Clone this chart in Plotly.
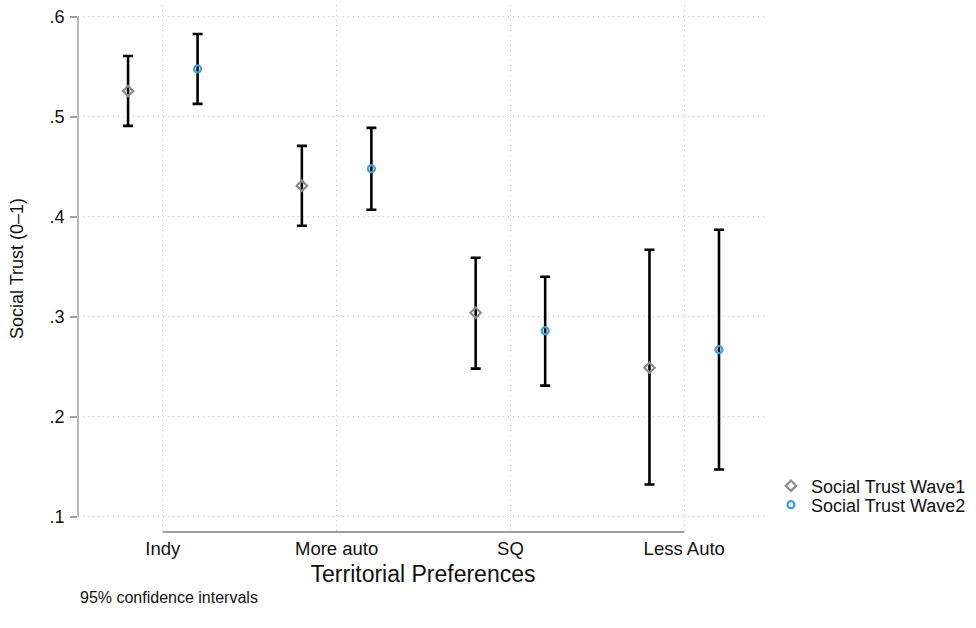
import plotly.graph_objects as go

categories = ["Indy", "More auto", "SQ", "Less Auto"]
wave1_mean = [0.526, 0.431, 0.304, 0.249]
wave1_low = [0.491, 0.391, 0.248, 0.132]
wave1_high = [0.561, 0.471, 0.359, 0.367]
wave2_mean = [0.548, 0.448, 0.286, 0.267]
wave2_low = [0.513, 0.407, 0.231, 0.147]
wave2_high = [0.583, 0.489, 0.340, 0.387]
y_ticks = [0.1, 0.2, 0.3, 0.4, 0.5, 0.6]
y_tick_labels = [".1", ".2", ".3", ".4", ".5", ".6"]

pos = list(range(1, len(categories) + 1))
off = 0.2
FONT = "Liberation Sans, Arial, Helvetica, sans-serif"

fig = go.Figure()

def add_series(name, means, lows, highs, shift, symbol, color, size, legend):
    xs = [p + shift for p in pos]
    fig.add_trace(go.Scatter(
        x=xs, y=means, mode="markers", name=name, legend=legend,
        marker=dict(symbol=symbol, size=size, color=color,
                    line=dict(color=color, width=2.2)),
        error_y=dict(type="data", symmetric=False,
                     array=[h - m for h, m in zip(highs, means)],
                     arrayminus=[m - l for m, l in zip(means, lows)],
                     color="black", thickness=2.6, width=5),
    ))

add_series("Social Trust Wave1", wave1_mean, wave1_low, wave1_high, -off,
           "diamond-open", "#8c8c8c", 8, "legend")
add_series("Social Trust Wave2", wave2_mean, wave2_low, wave2_high, off,
           "circle-open", "#3d9fdc", 7, "legend2")

grid = dict(showgrid=True, gridcolor="#c2c2c2", gridwidth=1, griddash="1px,4px", zeroline=False)

leg_common = dict(xanchor="left", yanchor="middle", font=dict(size=18),
                  bgcolor="rgba(0,0,0,0)", itemwidth=30)

fig.update_layout(
    width=976, height=628,
    paper_bgcolor="white", plot_bgcolor="white",
    margin=dict(l=78, r=206, t=5, b=96),
    font=dict(family=FONT, size=18, color="#111111"),
    xaxis=dict(range=[0.512, 4.482], tickvals=pos, ticktext=categories,
               ticks="", showline=False, ticklabelstandoff=3,
               title=dict(text="Territorial Preferences", font=dict(size=23), standoff=8),
               tickfont=dict(size=18.5), **grid),
    yaxis=dict(range=[0.0845, 0.612], tickvals=y_ticks, ticktext=y_tick_labels,
               ticks="outside", ticklen=7, tickcolor="#a0a0a0", tickwidth=1.5,
               showline=False, tickfont=dict(size=18), ticklabelstandoff=2,
               title=dict(text="Social Trust (0\u20131)", font=dict(size=18), standoff=21),
               **grid),
    legend=dict(x=1.0043, y=(532 - 486) / 527, **leg_common),
    legend2=dict(x=1.0043, y=(532 - 505) / 527, **leg_common),
    showlegend=True,
)

# Stata-style axis lines that span only the data ticks / categories
fig.add_shape(type="line", xref="paper", yref="y", x0=0, x1=0, y0=0.1, y1=0.6,
              line=dict(color="#a0a0a0", width=1.5))
fig.add_shape(type="line", xref="x", yref="paper", x0=1, x1=4, y0=0, y1=0,
              line=dict(color="#a0a0a0", width=2))

fig.add_annotation(text="95% confidence intervals", xref="paper", yref="paper",
                   x=0.0, y=-(597 - 532) / 527, xanchor="left", yanchor="middle",
                   showarrow=False, font=dict(size=16))

fig.write_html("out.html")
